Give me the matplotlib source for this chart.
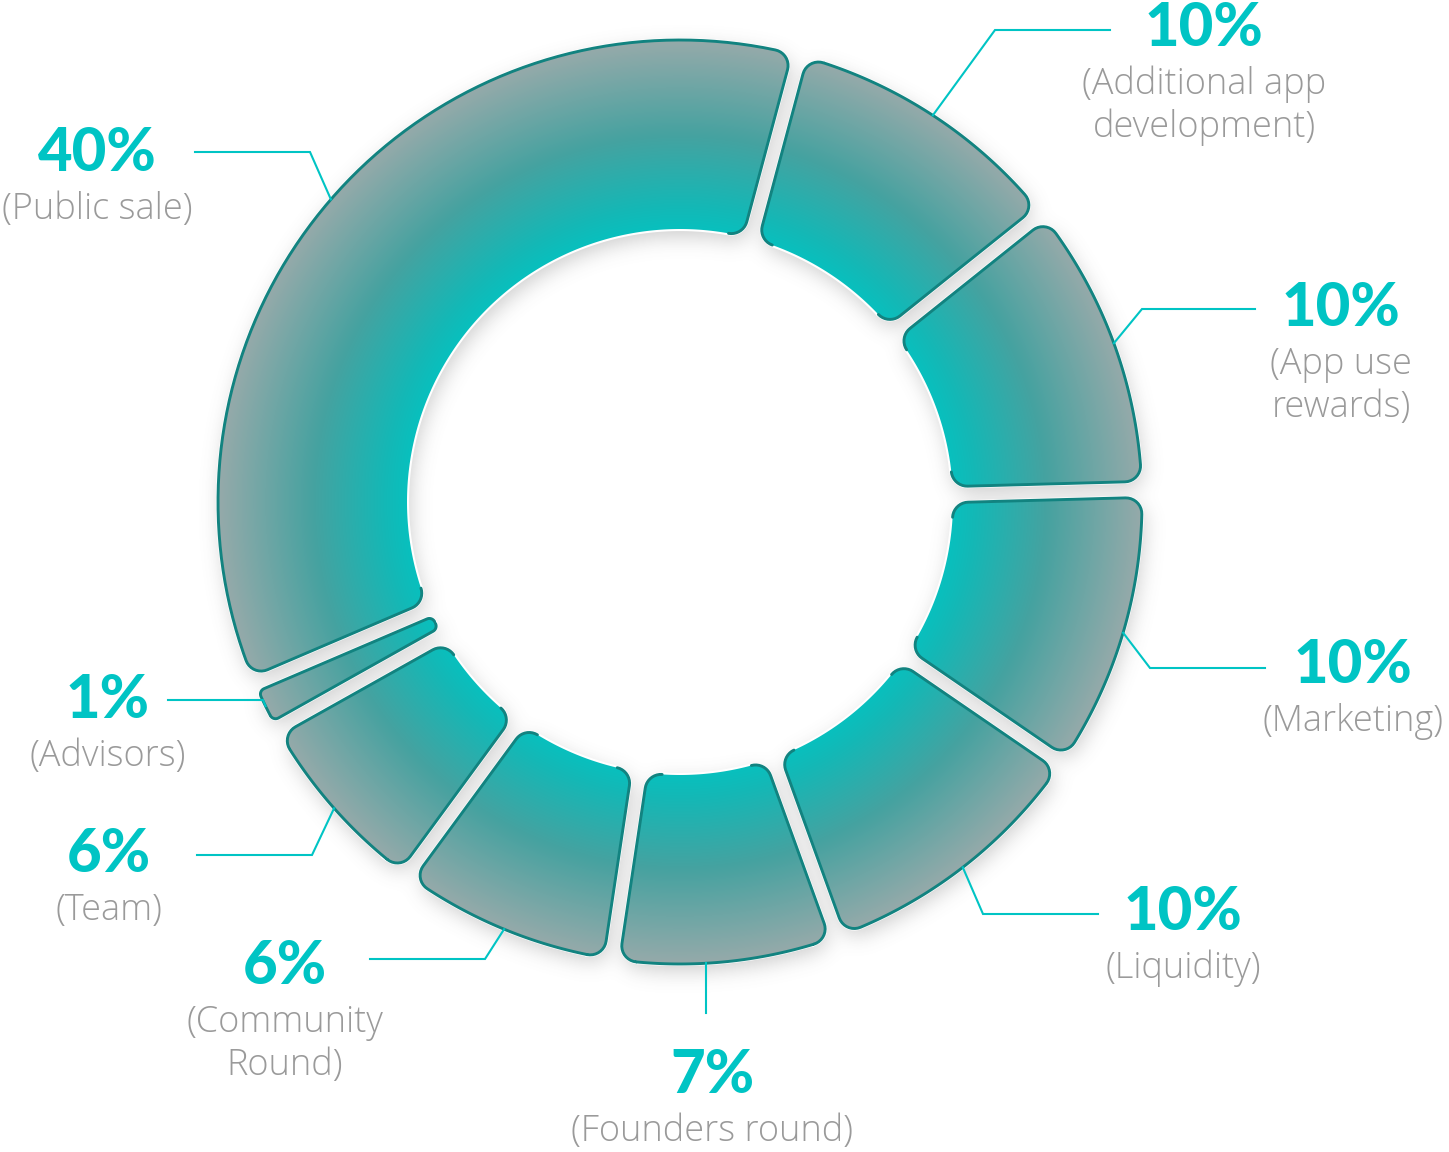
import numpy as np
import matplotlib
matplotlib.use("Agg")
import matplotlib.pyplot as plt
from matplotlib.path import Path
from matplotlib.patches import PathPatch

# ---------------- data (clockwise from the top) ----------------
categories = ["Additional app\ndevelopment", "App use\nrewards", "Marketing", "Liquidity",
              "Founders round", "Community\nRound", "Team", "Advisors", "Public sale"]
percent = [10, 10, 10, 10, 7, 6, 6, 1, 40]
# share of the ring each arc occupies as drawn in the artwork (not to scale with the labels)
drawn_share = [10.1, 10.3, 10.0, 9.9, 7.9, 7.7, 6.8, 1.7, 35.6]

# ---------------- layout ----------------
W, H = 1449, 1152
CX, CY = 680, 502
R_OUT, R_IN = 462, 273
GAP = 16
CORNER = 16
START_DEG = 75

label_xy = [(1204, 46), (1341, 326), (1353, 683), (1183, 930), (712, 1093),
            (285, 984), (109, 872), (108, 718), (97, 171)]
leader_elbow = [(995, 30), (1142, 309), (1150, 668), (983, 914), None,
                (485, 959), (312, 855), (263, 700), (310, 152)]
leader_end = [(1110, 30), (1255, 309), (1265, 668), (1098, 914), (706, 1013),
              (370, 959), (197, 855), (168, 700), (195, 152)]

TEAL = "#00C4C4"
GRAY_TXT = "#9a9a9a"
OUTLINE = "#128380"

fig = plt.figure(figsize=(W / 100, H / 100), dpi=100)
ax = fig.add_axes([0, 0, 1, 1])
ax.set_xlim(0, W)
ax.set_ylim(H, 0)
ax.axis("off")


def wrap(d):
    return (d + np.pi) % (2 * np.pi) - np.pi


def arc_pts(c, rad, a0, a1, n):
    t = np.linspace(a0, a1, n)
    return np.column_stack([c[0] + rad * np.cos(t), c[1] + rad * np.sin(t)])


def fillet(c, rc, v0, v1):
    a0 = np.arctan2(v0[1], v0[0])
    a1 = a0 + wrap(np.arctan2(v1[1], v1[0]) - a0)
    return arc_pts(c, rc, a0, a1, 10)


def segment(a_deg, b_deg):
    a, b = np.radians(a_deg), np.radians(b_deg)
    h = GAP / 2
    width_in = R_IN * (b - a) - GAP
    rc = min(CORNER, 0.45 * width_in)
    ua = np.array([np.cos(a), np.sin(a)]); na = np.array([-np.sin(a), np.cos(a)])
    ub = np.array([np.cos(b), np.sin(b)]); nb = np.array([np.sin(b), -np.cos(b)])

    def fc(u, nrm, rad):
        d = h + rc
        return np.sqrt(rad ** 2 - d ** 2) * u + d * nrm

    cAi, cAo = fc(ua, na, R_IN + rc), fc(ua, na, R_OUT - rc)
    cBi, cBo = fc(ub, nb, R_IN + rc), fc(ub, nb, R_OUT - rc)
    ang = lambda v: np.arctan2(v[1], v[0])
    oa = a + wrap(ang(cAo) - a); ob = b + wrap(ang(cBo) - b)
    ia = a + wrap(ang(cAi) - a); ib = b + wrap(ang(cBi) - b)
    parts = [fillet(cAi, rc, -cAi, -na),
             fillet(cAo, rc, -na, cAo),
             arc_pts((0, 0), R_OUT, oa, ob, max(8, int(np.degrees(ob - oa) * 2))),
             fillet(cBo, rc, cBo, -nb),
             fillet(cBi, rc, -nb, -cBi)]
    outline = np.vstack(parts)
    inner = arc_pts((0, 0), R_IN, ib, ia, max(8, int(np.degrees(ib - ia) * 2)))
    full = np.vstack([outline, inner])
    to_px = lambda p: np.column_stack([CX + p[:, 0], CY - p[:, 1]])
    return to_px(full), to_px(outline)


frac = np.array(drawn_share) / np.sum(drawn_share)
edges = START_DEG - 360 * np.concatenate([[0], np.cumsum(frac)])

seg_full, seg_line, mids = [], [], []
for i in range(len(categories)):
    f, o = segment(edges[i + 1], edges[i])
    seg_full.append(f)
    seg_line.append(o)
    mids.append(np.radians((edges[i] + edges[i + 1]) / 2))

verts, codes = [], []
for f in seg_full:
    verts.extend(f.tolist()); verts.append(f[0].tolist())
    codes.extend([Path.MOVETO] + [Path.LINETO] * (len(f) - 1) + [Path.CLOSEPOLY])
compound = Path(np.array(verts), codes)

# ---------- soft drop shadow ----------
step = 2
gy, gx = np.mgrid[0:H:step, 0:W:step]
pts = np.column_stack([gx.ravel() + 1.0, gy.ravel() + 1.0])
mask = np.zeros(len(pts), bool)
for f in seg_full:
    mask |= Path(f).contains_points(pts)
mask = mask.reshape(gx.shape).astype(float)


def gmat(n, s):
    idx = np.arange(n)
    K = np.exp(-0.5 * ((idx[:, None] - idx[None, :]) / s) ** 2)
    return K / K.sum(axis=1, keepdims=True)


blur = gmat(mask.shape[0], 5.0) @ mask @ gmat(mask.shape[1], 5.0).T
shadow = np.zeros(mask.shape + (4,))
shadow[..., :3] = 0.35
shadow[..., 3] = 0.30 * blur
dx, dy = 3, 7
ax.imshow(shadow, extent=(dx, W + dx, H + dy, dy), origin="upper",
          interpolation="bilinear", zorder=1)

# ---------- white rim + gradient fill ----------
ax.add_patch(PathPatch(compound, facecolor="white", edgecolor="white", lw=3.0, zorder=2))
yy, xx = np.mgrid[0:H, 0:W] + 0.5
rr = np.hypot(xx - CX, yy - CY)
t = np.clip((rr - R_IN) / (R_OUT - R_IN), 0, 1)
stops = [0.0, 0.12, 0.5, 1.0]
cols = np.array([[8, 192, 190], [20, 184, 182], [70, 162, 160], [150, 170, 170]]) / 255.0
grad = np.dstack([np.interp(t, stops, cols[:, k]) for k in range(3)])
im = ax.imshow(grad, extent=(0, W, H, 0), origin="upper", interpolation="bilinear", zorder=3)
clip = PathPatch(compound, transform=ax.transData)
im.set_clip_path(clip)

for o in seg_line:
    ax.plot(o[:, 0], o[:, 1], color=OUTLINE, lw=2.1, solid_capstyle="round",
            solid_joinstyle="round", zorder=4)

# ---------- labels & leader lines ----------
for i, cat in enumerate(categories):
    x, y = label_xy[i]
    ax.text(x, y, f"{percent[i]}%", ha="center", va="baseline", fontsize=43,
            family="Lato", fontweight="black", color=TEAL, zorder=6)
    lines = cat.split("\n")
    lines[0] = "(" + lines[0]
    lines[-1] = lines[-1] + ")"
    for k, ln in enumerate(lines):
        ax.text(x, y + 48 + 43 * k, ln, ha="center", va="baseline", fontsize=26,
                family="Open Sans", fontweight="light", color=GRAY_TXT, zorder=6)

    ex, ey = leader_end[i]
    if leader_elbow[i] is None:
        ax_y = CY + np.sqrt(R_OUT ** 2 - (ex - CX) ** 2)
        px, py = [ex, ex], [ax_y, ey]
    else:
        m = mids[i]
        anc = (CX + R_OUT * np.cos(m), CY - R_OUT * np.sin(m))
        el = leader_elbow[i]
        px, py = [anc[0], el[0], ex], [anc[1], el[1], ey]
    ax.plot(px, py, color=TEAL, lw=1.5, zorder=5, solid_joinstyle="miter")

fig.savefig("out.png", dpi=100, facecolor="white")
